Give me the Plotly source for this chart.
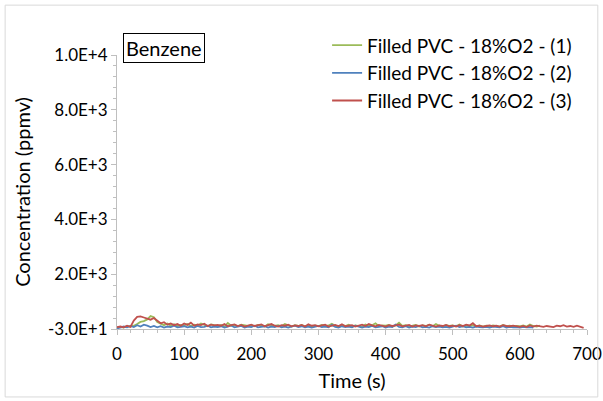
import plotly.graph_objects as go

# sampling times (s), one reading every 5 s
time = list(range(0, 700, 5))

# Filled PVC - 18%O2 - (1), ppmv
run1 = [30, 50, 20, 70, 60, 90, 150, 230, 260, 320,
        440, 400, 220, 150, 110, 170, 90, 140, 80, 120,
        100, 150, 80, 130, 90, 170, 110, 70, 140, 100,
        80, 120, 60, 190, 90, 110, 70, 130, 100, 80,
        110, 70, 120, 90, 60, 140, 100, 80, 110, 70,
        150, 90, 60, 110, 80, 120, 70, 100, 60, 90,
        80, 120, 70, 100, 160, 90, 60, 110, 80, 130,
        70, 100, 90, 60, 130, 80, 110, 180, 70, 100,
        90, 120, 60, 100, 200, 80, 110, 70, 90, 120,
        60, 100, 80, 130, 70, 150, 90, 60, 110, 80,
        100, 70, 130, 60, 90, 80, 110, 70, 100, 60,
        90, 70, 100, 80, 60, 120, 70, 90, 60, 80,
        70, 100, 60, 130, 80, 60, 90]

# Filled PVC - 18%O2 - (2), ppmv
run2 = [-10, 20, 60, 30, 80, 40, 110, 60, 130, 90,
        40, 80, 30, 70, 20, 60, 40, 90, 30, 50,
        70, 30, 60, 20, 80, 40, 50, 90, 30, 60,
        40, 70, 20, 60, 100, 30, 50, 80, 20, 60,
        40, 90, 30, 50, 70, 20, 60, 40, 80, 30,
        60, 20, 50, 90, 40, 70, 30, 60, 20, 50,
        80, 40, 60, 30, 120, 50, 20, 70, 40, 60,
        30, 90, 50, 20, 60, 40, 80, 30, 50, 70,
        20, 60, 40, 130, 50, 30, 70, 20, 60, 40,
        80, 30, 50, 20, 70, 40, 60, 30, 50, 20,
        60, 90, 40, 70, 30, 50, 20, 60, 40, 30,
        50, 20, 60, 40, 30, 70, 20, 50, 30, 40,
        20, 50, 30, 40, 20]

# Filled PVC - 18%O2 - (3), ppmv
run3 = [40, 60, 30, 90, 50, 280, 410, 430, 390, 350,
        310, 370, 260, 180, 220, 130, 170, 110, 150, 90,
        170, 120, 200, 90, 140, 110, 160, 80, 130, 100,
        120, 90, 150, 70, 110, 140, 80, 120, 60, 100,
        130, 80, 110, 140, 70, 100, 150, 90, 60, 110,
        90, 130, 70, 100, 80, 120, 60, 140, 90, 110,
        70, 100, 130, 60, 90, 120, 80, 140, 70, 100,
        110, 60, 90, 130, 80, 150, 100, 70, 120, 90,
        60, 110, 80, 100, 130, 70, 90, 120, 60, 100,
        80, 110, 70, 130, 90, 60, 100, 80, 120, 70,
        90, 60, 110, 80, 130, 100, 180, 70, 90, 60,
        80, 100, 70, 90, 60, 110, 80, 70, 90, 60,
        50, 80, 40, 100, 60, 90, 70, 50, 80, 60,
        40, 90, 70, 110, 60, 80, 50, 90, 40, 10]

names = ["Filled PVC - 18%O2 - (1)", "Filled PVC - 18%O2 - (2)", "Filled PVC - 18%O2 - (3)"]
colors = ["#9BBB59", "#4F81BD", "#C0504D"]

y_tickvals = [-30, 1970, 3970, 5970, 7970, 9970]
y_ticktext = ["-3.0E+1", "2.0E+3", "4.0E+3", "6.0E+3", "8.0E+3", "1.0E+4"]

fig = go.Figure()
for vals, name, col in zip([run1, run2, run3], names, colors):
    fig.add_trace(go.Scatter(x=time[:len(vals)], y=vals, mode="lines", name=name,
                             line=dict(color=col, width=1.8)))

font = "Lato, Calibri, sans-serif"
fig.update_layout(
    width=603, height=401,
    margin=dict(l=117, r=16, t=55, b=72, autoexpand=False),
    paper_bgcolor="white", plot_bgcolor="white",
    font=dict(family=font, size=17, color="black"),
    showlegend=True,
    legend=dict(x=0.447, y=1.105, xanchor="left", yanchor="top",
                bgcolor="rgba(0,0,0,0)", itemwidth=30, font=dict(size=19)),
    xaxis=dict(range=[0, 700], dtick=100, showgrid=False, zeroline=False, automargin=False,
               showline=True, linecolor="#BFBFBF", linewidth=1,
               ticks="outside", ticklen=5, tickcolor="#BFBFBF", ticklabelstandoff=5,
               minor=dict(dtick=20, ticks="outside", ticklen=3, tickcolor="#BFBFBF"),
               title=dict(text="Time (s)", standoff=10)),
    yaxis=dict(range=[-30, 9970], tickmode="array", tickvals=y_tickvals, ticktext=y_ticktext,
               showgrid=False, zeroline=False, automargin=False,
               showline=True, linecolor="#BFBFBF", linewidth=1,
               ticks="outside", ticklen=5, tickcolor="#BFBFBF",
               minor=dict(tickmode="linear", tick0=-30, dtick=400, ticks="outside",
                          ticklen=3, tickcolor="#BFBFBF"),
               title=dict(text="Concentration (ppmv)", standoff=12)),
)

fig.add_annotation(x=0.013, y=1.024, xref="paper", yref="paper", xanchor="left", yanchor="middle",
                   text="Benzene", showarrow=False, bordercolor="black", borderwidth=1,
                   borderpad=2, font=dict(size=20))

# outer chart border
fig.add_shape(type="rect", xref="paper", yref="paper", x0=-0.238, x1=1.023, y0=-0.248, y1=1.182,
              line=dict(color="#D9D9D9", width=1))

# page has a default 8px body margin; drop it so the chart sits at 0,0
post = "document.body.style.margin='0';document.body.style.overflow='hidden';"
fig.write_html("out.html", post_script=post, config={"displayModeBar": False})
